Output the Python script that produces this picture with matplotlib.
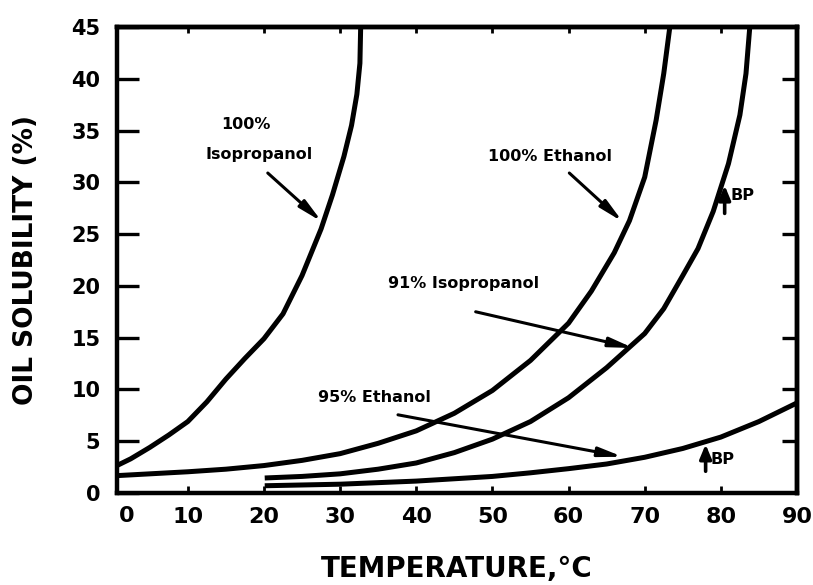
import matplotlib
matplotlib.use("Agg")
import matplotlib.pyplot as plt

# ---- data ----
iso100_x = [0, 2.5, 5, 7.5, 10, 12.5, 15, 17.5, 20, 22.5, 25, 27.5, 29, 30.5, 31.5, 32.2, 32.6, 32.7]
iso100_y = [2.4, 3.3, 4.4, 5.6, 6.9, 8.8, 11.0, 13.0, 14.9, 17.3, 21.0, 25.5, 28.8, 32.5, 35.5, 38.5, 41.5, 45.0]

eth100_x = [0, 5, 10, 15, 20, 25, 30, 35, 40, 45, 50, 55, 60, 63, 66, 68, 70, 71.5, 72.5, 73.3]
eth100_y = [1.65, 1.85, 2.05, 2.3, 2.65, 3.15, 3.8, 4.8, 6.0, 7.7, 9.9, 12.8, 16.4, 19.5, 23.2, 26.3, 30.5, 36.0, 40.5, 45.0]

iso91_x = [20.1, 25, 30, 35, 40, 45, 50, 55, 60, 65, 70, 72.5, 75, 77, 79, 81, 82.5, 83.3, 83.8]
iso91_y = [1.45, 1.6, 1.85, 2.3, 2.9, 3.9, 5.2, 6.9, 9.2, 12.1, 15.4, 17.8, 21.0, 23.6, 27.2, 31.8, 36.5, 40.5, 45.0]

eth95_x = [20.1, 30, 40, 50, 55, 60, 65, 70, 75, 80, 85, 90]
eth95_y = [0.7, 0.85, 1.15, 1.6, 1.95, 2.35, 2.8, 3.45, 4.3, 5.4, 6.9, 8.7]

x_ticks = [10, 20, 30, 40, 50, 60, 70, 80, 90]
y_ticks = [0, 5, 10, 15, 20, 25, 30, 35, 40, 45]

FONT = "DejaVu Sans"

fig = plt.figure(figsize=(8.13, 5.85), dpi=100)
ax = fig.add_axes([117/813, 1-493/585, (797-117)/813, (493-27)/585])

lw = 3.6
for xs, ys in [(iso100_x, iso100_y), (eth100_x, eth100_y),
               (iso91_x, iso91_y), (eth95_x, eth95_y)]:
    ax.plot(xs, ys, color="black", lw=lw, solid_joinstyle="round",
            solid_capstyle="butt")

ax.set_xlim(0.7, 90)
ax.set_ylim(0, 45)

for s in ax.spines.values():
    s.set_linewidth(3.2)

ax.set_xticks(x_ticks)
ax.set_xticklabels([str(v) for v in x_ticks], fontsize=16, fontweight="bold", family=FONT)
ax.set_yticks(y_ticks)
ax.set_yticklabels([str(v) for v in y_ticks], fontsize=15, fontweight="bold", family=FONT)
ax.tick_params(axis="x", direction="in", length=5, width=2, pad=10)
ax.tick_params(axis="y", direction="in", length=16, width=2.4, pad=12)
# "0" label on the x-axis sits just right of the spine in the original
fig.text(127/813, 1-516/585, "0", ha="center", va="center",
         fontsize=16, fontweight="bold", family=FONT)

# right-hand ticks
axr = ax.secondary_yaxis("right")
axr.set_yticks([5, 10, 15, 20, 25, 30, 35, 40])
axr.set_yticklabels([])
axr.tick_params(direction="in", length=11, width=2.4)
axr.spines["right"].set_linewidth(3.2)
# top ticks
axt = ax.secondary_xaxis("top")
axt.set_xticks([10, 20, 30, 40, 50, 60, 70, 80])
axt.set_xticklabels([])
axt.tick_params(direction="in", length=4, width=2)
axt.spines["top"].set_linewidth(3.2)

ax.set_xlabel("TEMPERATURE,°C", fontsize=20, fontweight="bold", family=FONT, labelpad=20)
ax.set_ylabel("OIL SOLUBILITY (%)", fontsize=19, fontweight="bold", family=FONT, labelpad=23)

tfs = 11.5
ax.text(14.4, 35.6, "100%", ha="left", va="center", fontsize=tfs, fontweight="bold", family=FONT)
ax.text(12.3, 32.7, "Isopropanol", ha="left", va="center", fontsize=tfs, fontweight="bold", family=FONT)
ax.text(49.4, 32.5, "100% Ethanol", ha="left", va="center", fontsize=tfs, fontweight="bold", family=FONT)
ax.text(36.3, 20.2, "91% Isopropanol", ha="left", va="center", fontsize=tfs, fontweight="bold", family=FONT)
ax.text(27.1, 9.2, "95% Ethanol", ha="left", va="center", fontsize=tfs, fontweight="bold", family=FONT)
ax.text(81.3, 28.7, "BP", ha="left", va="center", fontsize=tfs, fontweight="bold", family=FONT)
ax.text(78.7, 3.2, "BP", ha="left", va="center", fontsize=tfs, fontweight="bold", family=FONT)

arrow_kw = dict(arrowstyle="-|>,head_length=1.0,head_width=0.2", color="black",
                lw=2.2, shrinkA=0, shrinkB=0, mutation_scale=14)
for (x0, y0), (x1, y1) in [((20.5, 30.9), (27.6, 26.2)),
                           ((60.1, 30.9), (67.1, 26.2)),
                           ((47.8, 17.5), (68.5, 14.0)),
                           ((37.6, 7.55), (67.1, 3.5))]:
    ax.annotate("", xy=(x1, y1), xytext=(x0, y0), arrowprops=arrow_kw)

bp_kw = dict(arrowstyle="-|>,head_length=0.6,head_width=0.25", color="black",
             lw=2.6, shrinkA=0, shrinkB=0, mutation_scale=14)
for (x0, y0), (x1, y1) in [((80.5, 27.0), (80.5, 29.7)),
                           ((78.0, 2.1), (78.0, 4.7))]:
    ax.annotate("", xy=(x1, y1), xytext=(x0, y0), arrowprops=bp_kw)

fig.savefig("out.png", dpi=100)
